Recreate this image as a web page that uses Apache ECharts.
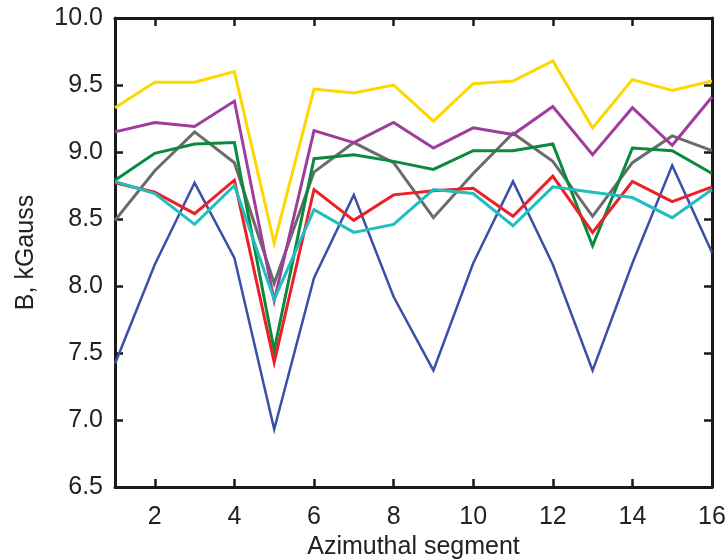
<!DOCTYPE html>
<html>
<head>
<meta charset="utf-8">
<script src="https://cdn.jsdelivr.net/npm/echarts@6/dist/echarts.min.js"></script>
<style>
html,body{margin:0;padding:0;background:#fff;}
#c{width:728px;height:560px;}
</style>
</head>
<body>
<div id="c"></div>
<script>
const segments = [1,2,3,4,5,6,7,8,9,10,11,12,13,14,15,16];
const xTicks = [2,4,6,8,10,12,14,16];
const yellow = [9.33,9.52,9.52,9.60,8.32,9.47,9.44,9.50,9.23,9.51,9.53,9.68,9.18,9.54,9.46,9.53];
const purple = [9.15,9.22,9.19,9.38,7.89,9.16,9.07,9.22,9.03,9.18,9.13,9.34,8.98,9.33,9.05,9.41];
const green  = [8.79,8.99,9.06,9.07,7.52,8.95,8.98,8.93,8.87,9.01,9.01,9.06,8.30,9.03,9.01,8.84];
const gray   = [8.49,8.86,9.15,8.92,8.02,8.85,9.07,8.92,8.51,8.84,9.14,8.93,8.52,8.92,9.12,9.01];
const red    = [8.77,8.70,8.54,8.79,7.43,8.72,8.49,8.68,8.71,8.73,8.52,8.82,8.40,8.78,8.63,8.74];
const cyan   = [8.78,8.69,8.46,8.75,7.90,8.57,8.40,8.46,8.72,8.69,8.45,8.74,8.70,8.66,8.51,8.72];
const blue   = [7.42,8.16,8.77,8.21,6.93,8.06,8.68,7.92,7.37,8.17,8.78,8.16,7.37,8.17,8.90,8.25];

const seriesDefs = [
  {name:'blue', data: blue, color:'#3A50A8', w:2.5},
  {name:'gray', data: gray, color:'#6B6B6B', w:3},
  {name:'green', data: green, color:'#0B8A3E', w:3},
  {name:'purple', data: purple, color:'#A03C9C', w:3},
  {name:'yellow', data: yellow, color:'#FCD800', w:3},
  {name:'red', data: red, color:'#EE2027', w:3},
  {name:'cyan', data: cyan, color:'#22BDBD', w:3}
];

const font = '"Liberation Sans", Arial, sans-serif';
const fs = 25;
const chart = echarts.init(document.getElementById('c'), null, {renderer:'canvas'});
chart.setOption({
  backgroundColor:'#fff',
  animation:false,
  grid:{left:115, right:16, top:18, bottom:73, containLabel:false, outerBoundsMode:'none'},
  xAxis:[
    {type:'value', min:1, max:16, position:'bottom',
     name:'Azimuthal segment', nameLocation:'middle', nameGap:47,
     nameTextStyle:{fontFamily:font, fontSize:fs, color:'#222'},
     axisLine:{show:true, onZero:false, lineStyle:{color:'#1a1a1a', width:3}},
     axisTick:{show:true, inside:true, length:8, customValues:xTicks, lineStyle:{color:'#1a1a1a', width:2.5}},
     axisLabel:{show:true, customValues:xTicks, fontFamily:font, fontSize:fs, color:'#222', margin:18},
     splitLine:{show:false}},
    {type:'value', min:1, max:16, position:'top',
     axisLine:{show:true, onZero:false, lineStyle:{color:'#1a1a1a', width:3}},
     axisTick:{show:true, inside:true, length:8, customValues:xTicks, lineStyle:{color:'#1a1a1a', width:2.5}},
     axisLabel:{show:false},
     splitLine:{show:false}}
  ],
  yAxis:[
    {type:'value', min:6.5, max:10, interval:0.5, position:'left',
     name:'B, kGauss', nameLocation:'middle', nameGap:76,
     nameTextStyle:{fontFamily:font, fontSize:fs, color:'#222'},
     axisLine:{show:true, onZero:false, lineStyle:{color:'#1a1a1a', width:3}},
     axisTick:{show:true, inside:true, length:8, lineStyle:{color:'#1a1a1a', width:2.5}},
     axisLabel:{fontFamily:font, fontSize:fs, color:'#222', margin:12, formatter:v=>v.toFixed(1)},
     splitLine:{show:false}},
    {type:'value', min:6.5, max:10, interval:0.5, position:'right',
     axisLine:{show:true, onZero:false, lineStyle:{color:'#1a1a1a', width:3}},
     axisTick:{show:true, inside:true, length:8, lineStyle:{color:'#1a1a1a', width:2.5}},
     axisLabel:{show:false},
     splitLine:{show:false}}
  ],
  series: seriesDefs.map(s => ({
    name:s.name, type:'line', xAxisIndex:0, yAxisIndex:0,
    data: segments.map((x,i)=>[x, s.data[i]]),
    showSymbol:false, symbol:'none',
    lineStyle:{color:s.color, width:s.w, join:'miter'},
    itemStyle:{color:s.color},
    clip:true
  }))
});
</script>
</body>
</html>
